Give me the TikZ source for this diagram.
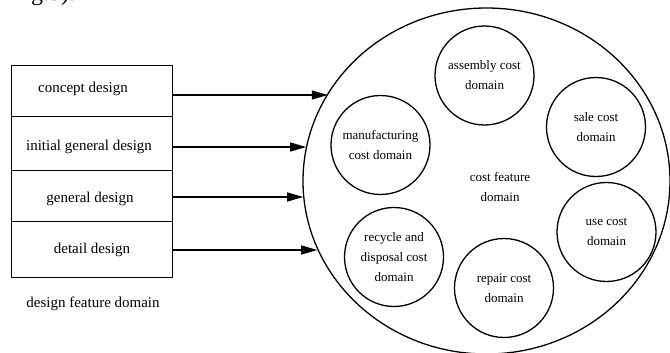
\documentclass[tikz,border=0pt]{standalone}
\usepackage{fontspec}
\setmainfont{Liberation Serif}
\usetikzlibrary{arrows.meta,shapes.geometric}
\begin{document}
\begin{tikzpicture}[x=1pt,y=-1pt,
  cellbox/.style={draw,line width=1.2pt,minimum width=161pt,inner sep=0pt,anchor=north west},
  bigtxt/.style={font=\fontsize{15}{18}\selectfont,inner sep=0pt},
  smalltxt/.style={font=\fontsize{13}{20}\selectfont,align=center,inner sep=0pt},
  domcircle/.style={draw,circle,line width=1.3pt,minimum size=99pt,inner sep=0pt,font=\fontsize{13}{20}\selectfont,align=center},
  link/.style={line width=1.3pt,-{Triangle[length=16pt,width=9pt]}}]
\useasboundingbox (0,0) rectangle (670,353);
% cut-off caption fragment at the top
\node[anchor=base west,inner sep=0pt,font=\fontsize{24}{28}\selectfont] (frag) at (11,1) {Fig.5).};
% left stack
\node[cellbox,minimum height=51pt] (c1) at (11,65) {};
\node[cellbox,minimum height=54pt] (c2) at (11,116) {};
\node[cellbox,minimum height=51pt] (c3) at (11,170) {};
\node[cellbox,minimum height=56pt] (c4) at (11,221) {};
\node[bigtxt] (t1) at (83,89) {concept design};
\node[bigtxt] (t2) at (89,147) {initial general design};
\node[bigtxt] (t3) at (90,199) {general design};
\node[bigtxt] (t4) at (92,250) {detail design};
\node[bigtxt] (tdom) at (93,304) {design feature domain};
% big ellipse
\node[draw,ellipse,line width=1.3pt,minimum width=367pt,minimum height=346pt,inner sep=0pt] (E) at (486.5,181) {};
\node[smalltxt] (ctxt) at (500,187) {cost feature\\domain};
% domain circles
\node[domcircle] (asm) at (484.5,75.5) {assembly cost\\domain};
\node[domcircle] (sale) at (596,127) {sale cost\\domain};
\node[domcircle] (manu) at (380.5,145) {manufacturing\\cost domain};
\node[domcircle] (use) at (606.5,232) {use cost\\domain};
\node[domcircle] (rec) at (394,257) {recycle and\\disposal cost\\domain};
\node[domcircle] (rep) at (504,288) {repair cost\\domain};
% arrows
\draw[link] (c1.east |- 0,95) -- (E.151.6 |- 0,95);
\draw[link] (c2.east |- 0,147) -- (E.169.3 |- 0,147);
\draw[link] (c3.east |- 0,197) -- (E.185.0 |- 0,197);
\draw[link] (c4.east |- 0,250) -- (E.202.3 |- 0,250);
\end{tikzpicture}
\end{document}
